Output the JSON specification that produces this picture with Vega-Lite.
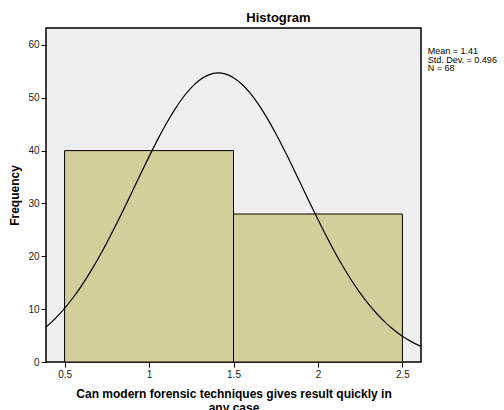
{
  "$schema": "https://vega.github.io/schema/vega-lite/v6.json",
  "width": 375,
  "height": 334,
  "autosize": {"type": "none"},
  "padding": {"left": 46, "top": 28, "right": 83, "bottom": 48},
  "background": "white",
  "config": {
    "view": {"stroke": "black", "strokeWidth": 1.5, "fill": "#efefef"},
    "font": "Liberation Sans",
    "axis": {
      "grid": false,
      "domain": false,
      "tickColor": "black",
      "tickSize": 5,
      "labelFont": "Liberation Sans",
      "labelFontSize": 10,
      "labelColor": "#222222",
      "titleFont": "Liberation Sans",
      "titleFontSize": 12,
      "titleFontWeight": "bold",
      "titleColor": "black"
    }
  },
  "title": {
    "text": "Histogram",
    "fontSize": 13,
    "fontWeight": "bold",
    "font": "Liberation Sans",
    "anchor": "middle",
    "dx": 45,
    "offset": 3,
    "color": "black"
  },
  "layer": [
    {
      "data": {
        "values": [
          {"bin_start": 0.5, "bin_end": 1.5, "count": 40},
          {"bin_start": 1.5, "bin_end": 2.5, "count": 28}
        ]
      },
      "mark": {"type": "rect", "fill": "#d3cf9b", "stroke": "black", "strokeWidth": 1},
      "encoding": {
        "x": {
          "field": "bin_start",
          "type": "quantitative",
          "scale": {"domain": [0.39, 2.61], "nice": false, "zero": false},
          "axis": {
            "values": [0.5, 1, 1.5, 2, 2.5],
            "format": "~g",
            "title": ["Can modern forensic techniques gives result quickly in", "any case"],
            "titlePadding": 9,
            "labelPadding": 2
          }
        },
        "x2": {"field": "bin_end"},
        "y": {
          "field": "count",
          "type": "quantitative",
          "scale": {"domain": [0, 63.2], "nice": false},
          "axis": {
            "values": [0, 10, 20, 30, 40, 50, 60],
            "title": "Frequency",
            "titlePadding": 6,
            "labelPadding": 2
          }
        },
        "y2": {"datum": 0}
      }
    },
    {
      "data": {
        "values": [
          {"x": 0.39, "f": 6.60}, {"x": 0.45, "f": 8.41}, {"x": 0.50, "f": 10.16},
          {"x": 0.55, "f": 12.16}, {"x": 0.60, "f": 14.42}, {"x": 0.65, "f": 16.91},
          {"x": 0.70, "f": 19.63}, {"x": 0.75, "f": 22.57}, {"x": 0.80, "f": 25.67},
          {"x": 0.85, "f": 28.91}, {"x": 0.90, "f": 32.23}, {"x": 0.95, "f": 35.58},
          {"x": 1.00, "f": 38.86}, {"x": 1.05, "f": 42.03}, {"x": 1.10, "f": 44.99},
          {"x": 1.15, "f": 47.67}, {"x": 1.20, "f": 50.00}, {"x": 1.25, "f": 51.92},
          {"x": 1.30, "f": 53.36}, {"x": 1.35, "f": 54.29}, {"x": 1.41, "f": 54.69},
          {"x": 1.45, "f": 54.51}, {"x": 1.50, "f": 53.80}, {"x": 1.55, "f": 52.56},
          {"x": 1.60, "f": 50.82}, {"x": 1.65, "f": 48.65}, {"x": 1.70, "f": 46.10},
          {"x": 1.75, "f": 43.24}, {"x": 1.80, "f": 40.15}, {"x": 1.85, "f": 36.90},
          {"x": 1.90, "f": 33.57}, {"x": 1.95, "f": 30.24}, {"x": 2.00, "f": 26.96},
          {"x": 2.05, "f": 23.79}, {"x": 2.10, "f": 20.78}, {"x": 2.15, "f": 17.97},
          {"x": 2.20, "f": 15.38}, {"x": 2.25, "f": 13.04}, {"x": 2.30, "f": 10.93},
          {"x": 2.35, "f": 9.08}, {"x": 2.40, "f": 7.46}, {"x": 2.45, "f": 6.07},
          {"x": 2.50, "f": 4.89}, {"x": 2.55, "f": 3.90}, {"x": 2.61, "f": 2.93}
        ]
      },
      "mark": {"type": "line", "color": "black", "strokeWidth": 1.2, "interpolate": "monotone", "clip": true},
      "encoding": {
        "x": {"field": "x", "type": "quantitative"},
        "y": {"field": "f", "type": "quantitative"}
      }
    },
    {
      "data": {"values": [{"stats": "Mean = 1.41\nStd. Dev. = 0.496\nN = 68"}]},
      "mark": {
        "type": "text",
        "align": "left",
        "baseline": "top",
        "lineBreak": "\n",
        "fontSize": 9,
        "lineHeight": 8.5,
        "font": "Liberation Sans",
        "color": "black"
      },
      "encoding": {
        "x": {"datum": 2.65},
        "y": {"datum": 59.6},
        "text": {"field": "stats", "type": "nominal"}
      }
    }
  ]
}
